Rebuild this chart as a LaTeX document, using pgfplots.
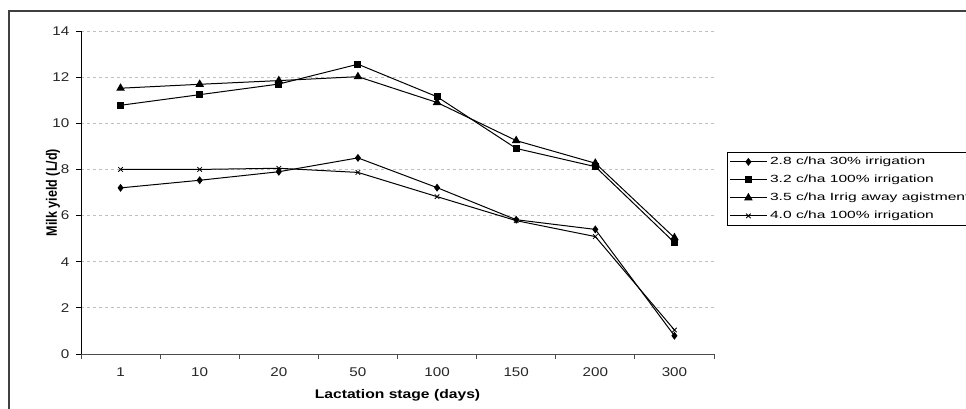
\documentclass[border=0pt]{standalone}
\usepackage{graphicx}
\usepackage{fontspec}
\setmainfont{Liberation Sans}
\usepackage{pgfplots}
\pgfplotsset{compat=1.18}

% horizontally widened text
\newcommand\wx[2]{\scalebox{#1}[1]{#2}}
\newcommand\tl[1]{\wx{1.2}{#1}}

\begin{document}
\begin{tikzpicture}[x=1pt,y=1pt]
% page area (1px = 0.75pt)
\path[use as bounding box] (0,0) rectangle (724.5,306.75);
\clip (0,0) rectangle (724.5,306.75);
% chart area frame
\draw[line width=1.1pt, draw=black!75] (6.75,-5) -- (6.75,298.5) -- (730,298.5);

\begin{axis}[
  at={(60.75pt,41.25pt)}, anchor=south west,
  scale only axis, width=474.75pt, height=242.25pt,
  xmin=-0.5, xmax=7.5, ymin=0, ymax=14,
  axis x line=bottom, axis y line=left,
  axis line style={-},
  x axis line style={draw=black!70},
  y axis line style={draw=black},
  tick align=outside,
  major tick length=3.75pt,
  xtick={-0.5,0.5,...,7.5}, xticklabels={},
  xtick style={draw=black!70, line width=0.6pt},
  extra x ticks={0,1,2,3,4,5,6,7},
  extra x tick labels={\tl{1},\tl{10},\tl{20},\tl{50},\tl{100},\tl{150},\tl{200},\tl{300}},
  extra x tick style={major tick length=0pt, grid=none,
    tick label style={yshift=-7pt}},
  ytick={0,2,...,14},
  yticklabel={\tl{\pgfmathprintnumber{\tick}}},
  ytick style={draw=black, line width=0.6pt},
  yticklabel style={xshift=-1.5pt},
  /pgf/number format/assume math mode=true,
  tick label style={font=\fontsize{9.5}{10}\selectfont, text=black!85},
  ymajorgrids,
  major grid style={draw=black!25, line width=0.6pt, dash pattern=on 2.5pt off 2pt},
  xlabel={\wx{1.25}{\bfseries Lactation stage (days)}},
  ylabel={\scalebox{1}[1.2]{\bfseries Milk yield (L/d)}},
  label style={font=\fontsize{9.4}{10}\selectfont},
  xlabel style={at={(axis description cs:0.5,-0.127)}, anchor=center},
  ylabel style={at={(axis description cs:-0.0442,0.5)}, anchor=center},
  legend cell align=left,
  legend style={
    at={(axis description cs:1.0205,0.6254)}, anchor=north west,
    draw=black, line width=0.6pt,
    font=\fontsize{7.8}{8}\selectfont,
    inner xsep=1.5pt, inner ysep=4pt,
    row sep=7.3pt, column sep=2pt,
    nodes={inner sep=0pt, text height=5.2pt, text depth=1pt},
  },
  legend image code/.code={
    \draw[#1, mark repeat=2, mark phase=2]
      plot coordinates {(0pt,0pt) (13.9pt,0pt) (27.75pt,0pt)};
  },
]
% 2.8 c/ha, 30% irrigation
\addplot[black, line width=0.75pt, mark=diamond*, mark size=2.4pt,
  mark options={fill=black, draw=black, solid}]
  coordinates {(0,7.20) (1,7.53) (2,7.90) (3,8.50) (4,7.21) (5,5.82) (6,5.40) (7,0.79)};
\addlegendentry{\wx{1.5}{2.8 c/ha 30\% irrigation}}
% 3.2 c/ha, 100% irrigation
\addplot[black, line width=0.75pt, mark=square*, mark size=2.25pt,
  mark options={fill=black, draw=black, solid}]
  coordinates {(0,10.78) (1,11.24) (2,11.70) (3,12.56) (4,11.15) (5,8.91) (6,8.12) (7,4.83)};
\addlegendentry{\wx{1.5}{3.2 c/ha 100\% irrigation}}
% 3.5 c/ha, irrigation away on agistment
\addplot[black, line width=0.75pt, mark=triangle*, mark size=3pt,
  mark options={fill=black, draw=black, solid}]
  coordinates {(0,11.52) (1,11.69) (2,11.85) (3,12.02) (4,10.90) (5,9.25) (6,8.27) (7,5.04)};
\addlegendentry{\wx{1.5}{3.5 c/ha Irrig away agistment}}
% 4.0 c/ha, 100% irrigation
\addplot[black, line width=0.75pt, mark=x, mark size=2.4pt,
  mark options={draw=black, solid, line width=0.6pt}]
  coordinates {(0,8.00) (1,8.00) (2,8.05) (3,7.87) (4,6.82) (5,5.78) (6,5.09) (7,1.04)};
\addlegendentry{\wx{1.5}{4.0 c/ha 100\% irrigation}}
\end{axis}
\end{tikzpicture}
\end{document}
